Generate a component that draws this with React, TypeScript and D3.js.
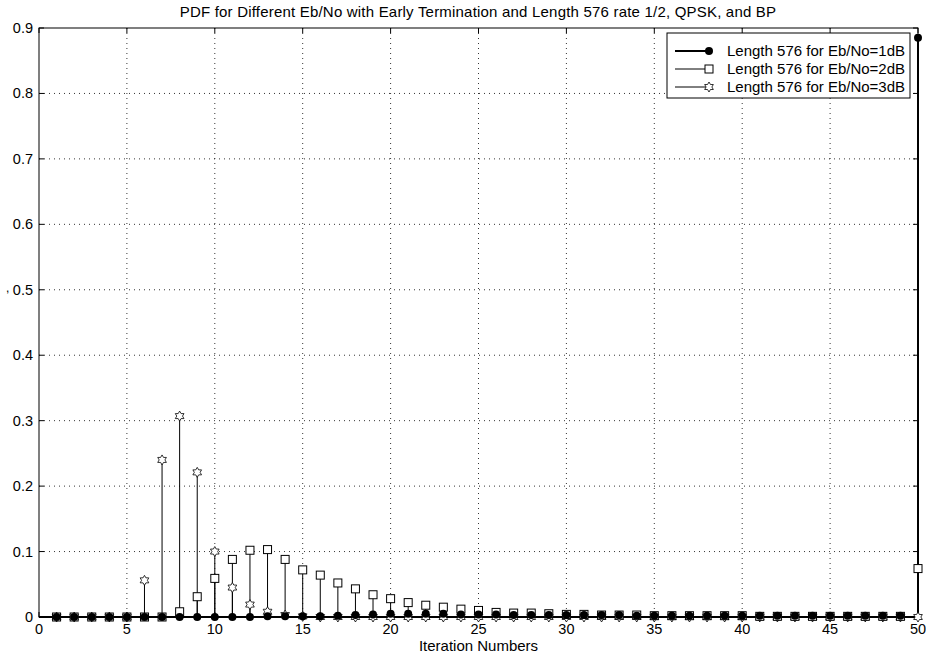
import React from "react";
import * as d3 from "d3";

const iterations: number[] = d3.range(1, 51);

const pdf1dB: number[] = [
  0, 0, 0, 0, 0, 0, 0, 0, 0, 0,
  0, 0, 0.001, 0.001, 0.001, 0.001, 0.002, 0.003, 0.004, 0.005,
  0.005, 0.005, 0.005, 0.004, 0.004, 0.004, 0.003, 0.003, 0.003, 0.003,
  0.003, 0.003, 0.003, 0.002, 0.002, 0.002, 0.002, 0.002, 0.002, 0.002,
  0.002, 0.002, 0.002, 0.002, 0.002, 0.002, 0.002, 0.002, 0.002, 0.885,
];

const pdf2dB: number[] = [
  0, 0, 0, 0, 0, 0, 0, 0.008, 0.031, 0.059,
  0.088, 0.102, 0.103, 0.088, 0.072, 0.064, 0.052, 0.043, 0.034, 0.028,
  0.022, 0.018, 0.015, 0.012, 0.010, 0.007, 0.006, 0.006, 0.005, 0.004,
  0.004, 0.003, 0.003, 0.003, 0.002, 0.002, 0.002, 0.002, 0.002, 0.002,
  0.001, 0.001, 0.001, 0.001, 0.001, 0.001, 0.001, 0.001, 0.001, 0.074,
];

const pdf3dB: number[] = [
  0, 0, 0, 0, 0, 0.056, 0.240, 0.307, 0.221, 0.100,
  0.045, 0.019, 0.008, 0.003, 0.001, 0, 0, 0, 0, 0,
  0, 0, 0, 0, 0, 0, 0, 0, 0, 0,
  0, 0, 0, 0, 0, 0, 0, 0, 0, 0,
  0, 0, 0, 0, 0, 0, 0, 0, 0, 0,
];

const xTicks: number[] = [0, 5, 10, 15, 20, 25, 30, 35, 40, 45, 50];
const yTicks: number[] = [0, 0.1, 0.2, 0.3, 0.4, 0.5, 0.6, 0.7, 0.8, 0.9];
const legendLabels: string[] = [
  "Length 576 for Eb/No=1dB",
  "Length 576 for Eb/No=2dB",
  "Length 576 for Eb/No=3dB",
];
const titleText = "PDF for Different Eb/No with Early Termination and Length 576 rate 1/2, QPSK, and BP";
const xLabelText = "Iteration Numbers";
const yLabelText = ",";

const W = 926;
const H = 659;
const L = 39, R = 918, T = 28, B = 617;
const FONT = "'Liberation Sans', Arial, Helvetica, sans-serif";

function hexagram(cx: number, cy: number, r: number): string {
  const ri = r / Math.sqrt(3);
  const pts: string[] = [];
  for (let i = 0; i < 12; i++) {
    const a = -Math.PI / 2 + (i * Math.PI) / 6;
    const rr = i % 2 === 0 ? r : ri;
    pts.push(`${(cx + rr * Math.cos(a)).toFixed(2)},${(cy + rr * Math.sin(a)).toFixed(2)}`);
  }
  return "M" + pts.join("L") + "Z";
}

export default function App() {
  const x = d3.scaleLinear().domain([0, 50]).range([L, R]);
  const y = d3.scaleLinear().domain([0, 0.9]).range([B, T]);
  const tickLen = 5;

  const stems = (vals: number[], width: number) =>
    iterations.map((it, i) => (
      <line key={it} x1={x(it)} x2={x(it)} y1={y(0)} y2={y(vals[i])} stroke="#000" strokeWidth={width} />
    ));

  const legX = 667, legY = 33, legW = 243, legH = 65;
  const rowY = [51, 69, 87];

  return (
    <svg width={W} height={H} style={{ position: "absolute", left: 0, top: 0, background: "#fff" }}>
      <rect x={0} y={0} width={W} height={H} fill="#fff" />
      {/* grid */}
      {xTicks.slice(1, -1).map((t) => (
        <line key={"gx" + t} x1={x(t)} x2={x(t)} y1={T} y2={B} stroke="#000" strokeWidth={0.8} strokeDasharray="1,4" />
      ))}
      {yTicks.slice(1, -1).map((t) => (
        <line key={"gy" + t} x1={L} x2={R} y1={y(t)} y2={y(t)} stroke="#000" strokeWidth={0.8} strokeDasharray="1,4" />
      ))}
      {/* ticks */}
      {xTicks.map((t) => (
        <g key={"tx" + t}>
          <line x1={x(t)} x2={x(t)} y1={B} y2={B - tickLen} stroke="#000" />
          <line x1={x(t)} x2={x(t)} y1={T} y2={T + tickLen} stroke="#000" />
          <text x={x(t)} y={B + 17} textAnchor="middle" fontFamily={FONT} fontSize={14.5}>{t}</text>
        </g>
      ))}
      {yTicks.map((t) => (
        <g key={"ty" + t}>
          <line x1={L} x2={L + tickLen} y1={y(t)} y2={y(t)} stroke="#000" />
          <line x1={R} x2={R - tickLen} y1={y(t)} y2={y(t)} stroke="#000" />
          <text x={L - 6} y={y(t) + 5} textAnchor="end" fontFamily={FONT} fontSize={14.5}>{t === 0 ? "0" : t.toFixed(1)}</text>
        </g>
      ))}
      {/* box */}
      <rect x={L} y={T} width={R - L} height={B - T} fill="none" stroke="#000" strokeWidth={1} />

      {/* stems */}
      <g>{stems(pdf3dB, 1)}</g>
      <g>{stems(pdf2dB, 1)}</g>
      <g>{stems(pdf1dB, 2)}</g>
      <line x1={L} x2={R} y1={y(0)} y2={y(0)} stroke="#000" strokeWidth={2} />

      {/* markers */}
      <g>
        {iterations.map((it, i) => (
          <path key={it} d={hexagram(x(it), y(pdf3dB[i]), 5)} fill="#fff" stroke="#000" strokeWidth={0.8} />
        ))}
      </g>
      <g>
        {iterations.map((it, i) => (
          <rect key={it} x={x(it) - 4} y={y(pdf2dB[i]) - 4} width={8} height={8} fill="#fff" stroke="#000" strokeWidth={1} />
        ))}
      </g>
      <g>
        {iterations.map((it, i) => (
          <circle key={it} cx={x(it)} cy={y(pdf1dB[i])} r={4} fill="#000" />
        ))}
      </g>

      {/* legend */}
      <rect x={legX} y={legY} width={legW} height={legH} fill="#fff" stroke="#000" strokeWidth={1} />
      <line x1={675} x2={709} y1={rowY[0]} y2={rowY[0]} stroke="#000" strokeWidth={2} />
      <circle cx={709} cy={rowY[0]} r={4} fill="#000" />
      <line x1={675} x2={709} y1={rowY[1]} y2={rowY[1]} stroke="#000" strokeWidth={1} />
      <rect x={705} y={rowY[1] - 4} width={8} height={8} fill="#fff" stroke="#000" />
      <line x1={675} x2={709} y1={rowY[2]} y2={rowY[2]} stroke="#000" strokeWidth={1} />
      <path d={hexagram(709, rowY[2], 5)} fill="#fff" stroke="#000" strokeWidth={0.8} />
      {legendLabels.map((s, i) => (
        <text key={s} x={727} y={rowY[i] + 5} fontFamily={FONT} fontSize={15}>{s}</text>
      ))}

      {/* labels */}
      <text x={478} y={17} textAnchor="middle" fontFamily={FONT} fontSize={15} letterSpacing={0.2}>{titleText}</text>
      <text x={(L + R) / 2} y={651} textAnchor="middle" fontFamily={FONT} fontSize={15}>{xLabelText}</text>
      <text x={6} y={292} fontFamily={FONT} fontSize={12}>{yLabelText}</text>
    </svg>
  );
}
